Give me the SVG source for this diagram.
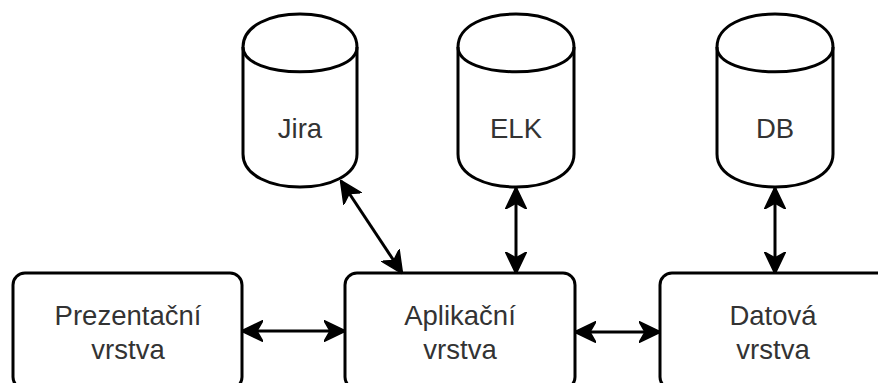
<svg xmlns="http://www.w3.org/2000/svg" width="878" height="383" viewBox="0 0 878 383">
<style>
.shape{fill:#ffffff;stroke:#000000;stroke-width:3}
.inner{fill:none;stroke:#000000;stroke-width:3}
.lbl{font-family:"Liberation Sans",Arial,Helvetica,sans-serif;font-size:27.5px;fill:#333333;text-anchor:middle}
.conn{fill:none;stroke:#000000;stroke-width:3;marker-start:url(#arr);marker-end:url(#arr)}
</style>
<defs>
<marker id="arr" viewBox="0 0 22 22" refX="21" refY="11" markerWidth="22" markerHeight="22" markerUnits="userSpaceOnUse" orient="auto-start-reverse">
<path d="M0,0.5 L22,11 L0,21.5 L6,11 Z" fill="#000000" stroke="#000000" stroke-width="1.5" stroke-linejoin="miter"/>
</marker>
</defs>
<rect width="878" height="383" fill="#ffffff"/>
<g id="jira">
<path class="shape" d="M243,47 C243,3 357,3 357,47 L357,154 C357,198 243,198 243,154 Z"/>
<path class="inner" d="M243,47 C243,80 357,80 357,47"/>
<text class="lbl" x="300" y="138">Jira</text>
</g>
<g id="elk">
<path class="shape" d="M458,47 C458,3 574,3 574,47 L574,154 C574,198 458,198 458,154 Z"/>
<path class="inner" d="M458,47 C458,80 574,80 574,47"/>
<text class="lbl" x="516" y="138">ELK</text>
</g>
<g id="db">
<path class="shape" d="M717,47 C717,3 833,3 833,47 L833,154 C833,198 717,198 717,154 Z"/>
<path class="inner" d="M717,47 C717,80 833,80 833,47"/>
<text class="lbl" x="775" y="138">DB</text>
</g>
<g id="prezentacni">
<rect class="shape" x="13" y="273" width="229" height="116" rx="12" ry="12"/>
<text class="lbl" x="128" y="325">Prezentační</text>
<text class="lbl" x="128" y="359">vrstva</text>
</g>
<g id="aplikacni">
<rect class="shape" x="345" y="273" width="230" height="116" rx="12" ry="12"/>
<text class="lbl" x="460" y="325">Aplikační</text>
<text class="lbl" x="460" y="359">vrstva</text>
</g>
<g id="datova">
<rect class="shape" x="660" y="273" width="229" height="116" rx="12" ry="12"/>
<text class="lbl" x="773" y="325">Datová</text>
<text class="lbl" x="773" y="359">vrstva</text>
</g>
<g id="connectors">
<path class="conn" d="M242,331 L345,331"/>
<path class="conn" d="M575,332 L660,332"/>
<path class="conn" d="M341,181 L402,273"/>
<path class="conn" d="M516,188 L516,273"/>
<path class="conn" d="M775,188 L775,273"/>
</g>
</svg>
